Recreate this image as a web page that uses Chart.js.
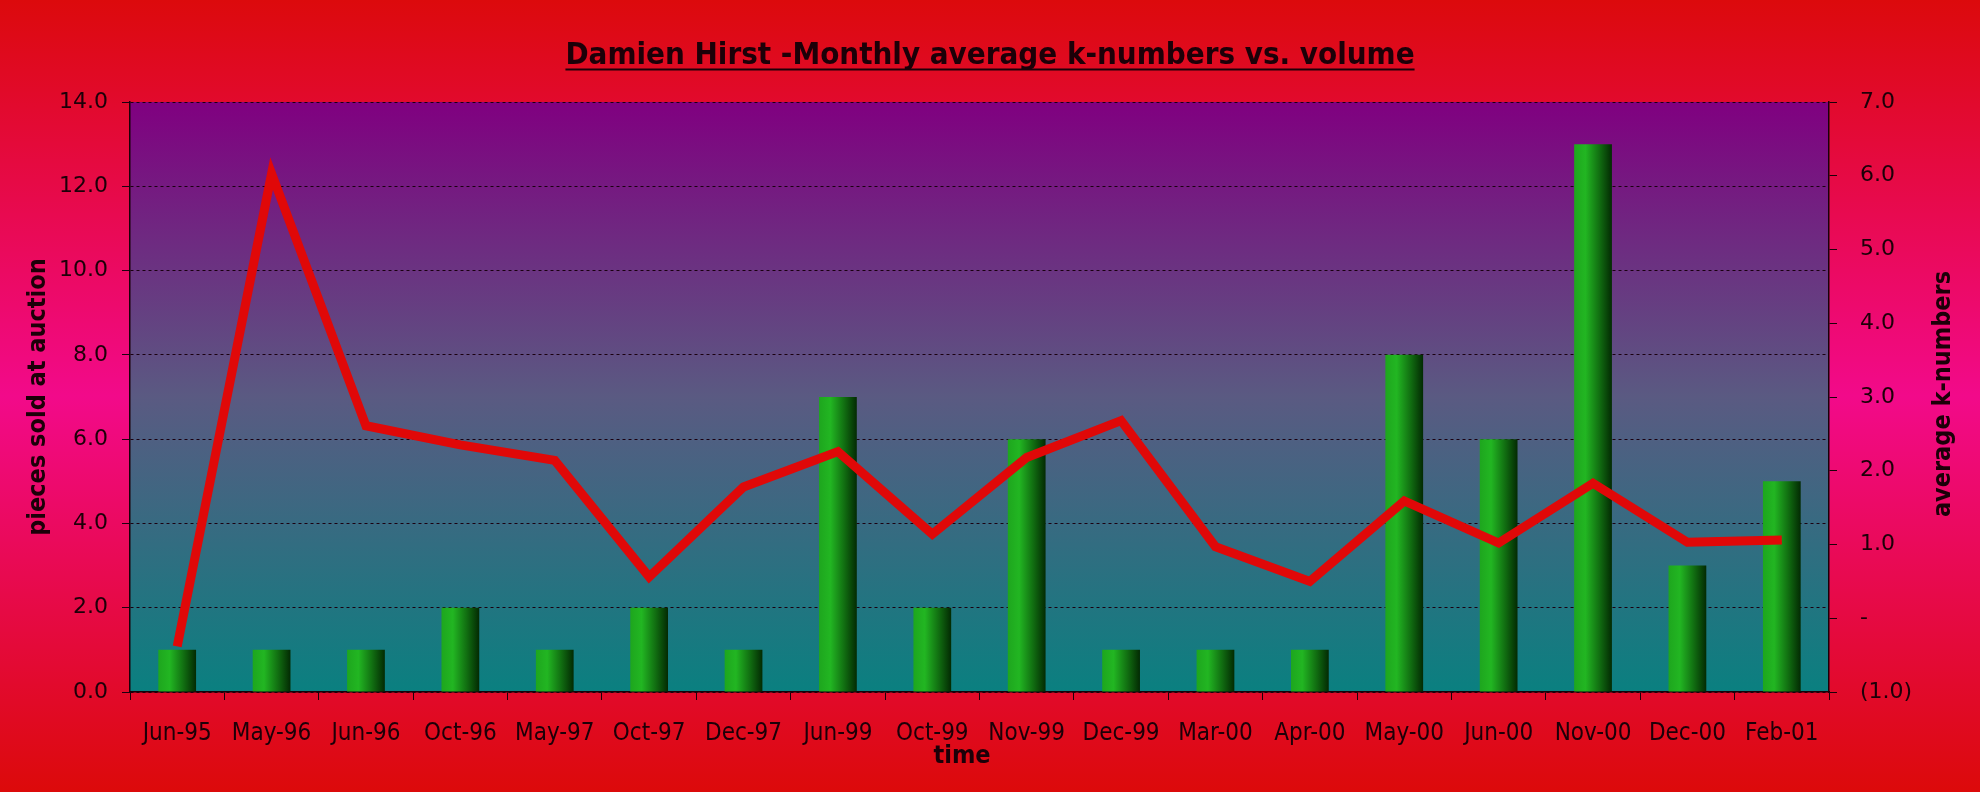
<!DOCTYPE html>
<html>
<head>
<meta charset="utf-8">
<script src="https://cdn.jsdelivr.net/npm/chart.js@4/dist/chart.umd.min.js"></script>
<style>
  html, body { margin: 0; padding: 0; background: #dc0a0a; }
  #wrap { width: 1980px; height: 792px; }
</style>
</head>
<body>
<div id="wrap"><canvas id="c" width="1980" height="792"></canvas></div>
<script>
const categories = ["Jun-95","May-96","Jun-96","Oct-96","May-97","Oct-97","Dec-97","Jun-99","Oct-99","Nov-99","Dec-99","Mar-00","Apr-00","May-00","Jun-00","Nov-00","Dec-00","Feb-01"];
const piecesSold = [1,1,1,2,1,2,1,7,2,6,1,1,1,8,6,13,3,5];
const avgKNumbers = [-0.38,6.03,2.61,2.35,2.14,0.56,1.78,2.26,1.14,2.18,2.68,0.97,0.50,1.59,1.02,1.83,1.03,1.06];
const leftTicks = [0,2,4,6,8,10,12,14];
const rightTicks = [-1,0,1,2,3,4,5,6,7];

const titleText = "Damien Hirst -Monthly average k-numbers vs. volume";
const leftTitle = "pieces sold at auction";
const rightTitle = "average k-numbers";
const xTitle = "time";

const TEXT = '#1c0008';
const BAR_FRAC = 0.4;
const TITLE_SIZE = 31;
const TITLE_PAD_TOP = 37;

const bgPlugin = {
  id: 'bg',
  beforeDraw(chart) {
    const ctx = chart.ctx;
    const W = chart.width, H = chart.height;
    const g = ctx.createLinearGradient(0, 0, 0, H);
    g.addColorStop(0, '#dc0a0c');
    g.addColorStop(0.5, '#f20a8a');
    g.addColorStop(1, '#dc0a0a');
    ctx.save();
    ctx.fillStyle = g;
    ctx.fillRect(0, 0, W, H);
    const a = chart.chartArea;
    const pg = ctx.createLinearGradient(0, a.top, 0, a.bottom);
    pg.addColorStop(0, '#800080');
    pg.addColorStop(0.5, '#5a5a82');
    pg.addColorStop(1, '#0a8080');
    ctx.fillStyle = pg;
    ctx.fillRect(a.left, a.top, a.right - a.left, a.bottom - a.top);
    ctx.restore();
  },
  afterDraw(chart) {
    const ctx = chart.ctx;
    const a = chart.chartArea;
    // underline the title
    const tb = chart.titleBlock;
    if (tb) {
      ctx.save();
      ctx.font = 'bold ' + TITLE_SIZE + 'px "DejaVu Sans Condensed"';
      const w = ctx.measureText(titleText).width;
      const cx = tb.left + tb.width / 2;
      const cy = tb.top + TITLE_PAD_TOP + TITLE_SIZE * 1.2 / 2;
      ctx.strokeStyle = TEXT;
      ctx.lineWidth = 2;
      ctx.beginPath();
      ctx.moveTo(cx - w / 2, cy + 14);
      ctx.lineTo(cx + w / 2, cy + 14);
      ctx.stroke();
      ctx.restore();
    }
    // right axis title, reading bottom-to-top
    ctx.save();
    ctx.font = 'bold 25px "DejaVu Sans Condensed"';
    ctx.fillStyle = TEXT;
    ctx.textAlign = 'center';
    ctx.textBaseline = 'middle';
    ctx.translate(1943, (a.top + a.bottom) / 2 - 3);
    ctx.rotate(-Math.PI / 2);
    ctx.fillText(rightTitle, 0, 0);
    ctx.restore();
    // x axis title
    ctx.save();
    ctx.font = 'bold 25px "DejaVu Sans Condensed"';
    ctx.fillStyle = TEXT;
    ctx.textAlign = 'center';
    ctx.textBaseline = 'middle';
    ctx.fillText(xTitle, 962, 756);
    ctx.restore();
  }
};

function barGradient(c) {
  const chart = c.chart;
  if (!chart.chartArea || c.type !== 'data') return '#1aa01a';
  const xs = chart.scales.x;
  const x = xs.getPixelForValue(c.dataIndex);
  const w = (xs.width / categories.length) * BAR_FRAC;
  const g = chart.ctx.createLinearGradient(x - w / 2, 0, x + w / 2, 0);
  g.addColorStop(0, '#1ea61e');
  g.addColorStop(0.3, '#22b622');
  g.addColorStop(0.65, '#127212');
  g.addColorStop(1, '#032a03');
  return g;
}

new Chart(document.getElementById('c'), {
  type: 'bar',
  data: {
    labels: categories,
    datasets: [
      {
        type: 'line',
        label: 'average k-numbers',
        data: avgKNumbers,
        yAxisID: 'yRight',
        borderColor: '#e00808',
        borderWidth: 9,
        pointRadius: 0,
        tension: 0,
        borderJoinStyle: 'miter',
        borderCapStyle: 'butt',
        fill: false,
        order: 0
      },
      {
        type: 'bar',
        label: 'pieces sold at auction',
        data: piecesSold,
        yAxisID: 'y',
        backgroundColor: barGradient,
        borderWidth: 0,
        categoryPercentage: 1.0,
        barPercentage: BAR_FRAC,
        order: 1
      }
    ]
  },
  options: {
    responsive: false,
    animation: false,
    layout: { padding: 0 },
    plugins: {
      legend: { display: false },
      tooltip: { enabled: false },
      title: {
        display: true,
        text: titleText,
        color: TEXT,
        font: { family: '"DejaVu Sans Condensed"', size: TITLE_SIZE, weight: 'bold' },
        padding: { top: TITLE_PAD_TOP, bottom: 102 - TITLE_PAD_TOP - TITLE_SIZE * 1.2 }
      }
    },
    scales: {
      x: {
        afterFit(s) { s.height = 100; },
        grid: { display: true, drawOnChartArea: false, drawTicks: true, tickLength: 8, color: '#1a0008', offset: true },
        border: { display: true, color: '#1a0008', width: 1.5 },
        ticks: {
          color: TEXT, padding: 19, maxRotation: 0, minRotation: 0, autoSkip: false,
          font: { family: '"DejaVu Sans Condensed"', size: 24 }
        },
        title: { display: false }
      },
      y: {
        position: 'left',
        min: 0, max: 14,
        afterFit(s) { s.width = 130; },
        afterBuildTicks(s) { s.ticks = leftTicks.map(v => ({ value: v })); },
        grid: {
          display: true, drawOnChartArea: true, drawTicks: true, tickLength: 8,
          color: '#1a0010', lineWidth: 1, tickBorderDash: []
        },
        border: { display: true, color: '#1a0008', width: 1.5, dash: [3, 3] },
        ticks: {
          color: TEXT, padding: 14,
          font: { family: '"DejaVu Sans"', size: 22 },
          callback: v => Number(v).toFixed(1)
        },
        title: {
          display: true, text: leftTitle, color: TEXT,
          font: { family: '"DejaVu Sans Condensed"', size: 25, weight: 'bold' },
          padding: { top: 23, bottom: 0 }
        }
      },
      yRight: {
        position: 'right',
        min: -1, max: 7,
        afterFit(s) { s.width = 151; },
        afterBuildTicks(s) { s.ticks = rightTicks.map(v => ({ value: v })); },
        grid: { display: true, drawOnChartArea: false, drawTicks: true, tickLength: 8, color: '#1a0008' },
        border: { display: true, color: '#1a0008', width: 1.5 },
        ticks: {
          color: TEXT, padding: 23,
          font: { family: '"DejaVu Sans"', size: 22 },
          callback: v => {
            const n = Number(v);
            if (n === 0) return '-';
            if (n < 0) return '(' + Math.abs(n).toFixed(1) + ')';
            return n.toFixed(1);
          }
        },
        title: { display: false }
      }
    }
  },
  plugins: [bgPlugin]
});
</script>
</body>
</html>
